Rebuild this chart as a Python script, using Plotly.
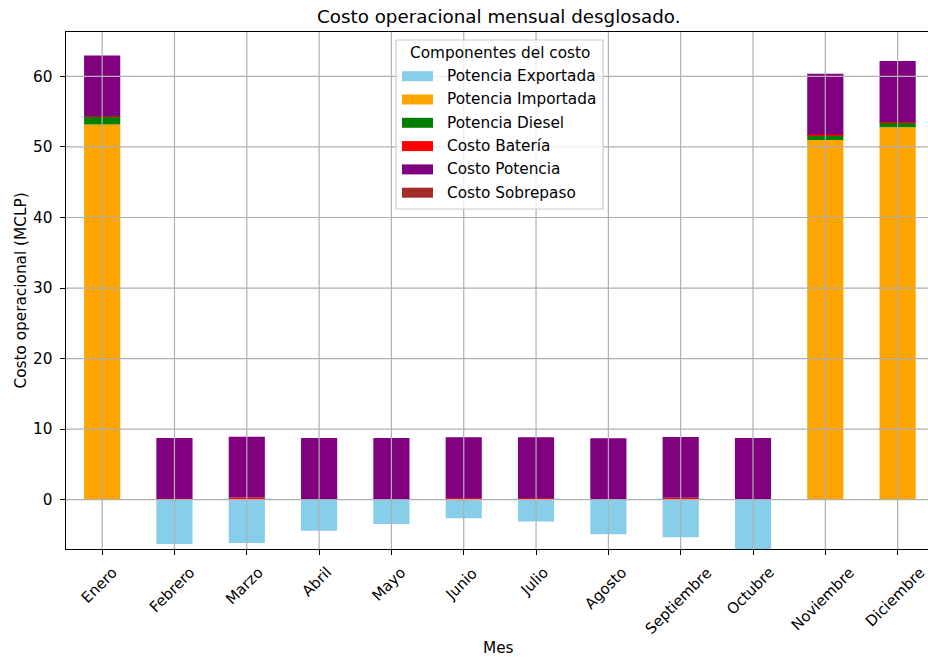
import plotly.graph_objects as go

# Monthly cost breakdown (MCLP)
meses = ["Enero", "Febrero", "Marzo", "Abril", "Mayo", "Junio", "Julio",
         "Agosto", "Septiembre", "Octubre", "Noviembre", "Diciembre"]
potencia_exportada = [0.0, -6.3, -6.15, -4.4, -3.45, -2.65, -3.1, -4.9, -5.35, -7.0, 0.0, 0.0]
potencia_importada = [53.2, 0.0, 0.0, 0.0, 0.0, 0.08, 0.06, 0.0, 0.0, 0.0, 51.0, 52.8]
potencia_diesel = [1.05, 0.0, 0.0, 0.0, 0.0, 0.0, 0.0, 0.0, 0.0, 0.0, 0.6, 0.6]
costo_bateria = [0.1, 0.12, 0.3, 0.1, 0.1, 0.15, 0.15, 0.08, 0.25, 0.1, 0.15, 0.15]
costo_potencia = [8.63, 8.63, 8.63, 8.63, 8.63, 8.63, 8.63, 8.63, 8.63, 8.63, 8.63, 8.63]
costo_sobrepaso = [0.0] * 12

series = [
    ("Potencia Exportada", potencia_exportada, "#87CEEB"),
    ("Potencia Importada", potencia_importada, "#FFA500"),
    ("Potencia Diesel", potencia_diesel, "#008000"),
    ("Costo Batería", costo_bateria, "#FF0000"),
    ("Costo Potencia", costo_potencia, "#800080"),
    ("Costo Sobrepaso", costo_sobrepaso, "#A52A2A"),
]
y_ticks = [0, 10, 20, 30, 40, 50, 60]

W, H = 928, 660
L, R_PX, T, B_PX = 66, 928, 32, 549  # plot area in pixels
PW, PH = R_PX - L, B_PX - T
FONT = "DejaVu Sans"
FS = 15.3
LW = 1.2


def px(xp):
    return (xp - L) / PW


def py(yp):
    return (B_PX - yp) / PH


fig = go.Figure()
for name, vals, color in series:
    fig.add_trace(go.Bar(
        x=meses, y=vals, name=name, width=0.5,
        marker=dict(color=color, line=dict(width=0)),
        showlegend=False,
    ))

shapes = []
annotations = []

# grid drawn over the bars
for m in meses:
    shapes.append(dict(type="line", xref="x", yref="paper", x0=m, x1=m, y0=0, y1=1,
                       line=dict(color="#b0b0b0", width=LW), layer="above"))
for t in y_ticks:
    shapes.append(dict(type="line", xref="paper", yref="y", x0=0, x1=1, y0=t, y1=t,
                       line=dict(color="#b0b0b0", width=LW), layer="above"))

# rotated month labels, centred under each tick
for m in meses:
    annotations.append(dict(x=m, xref="x", y=py(561), yref="paper", text=m,
                            showarrow=False, textangle=-45, xanchor="center",
                            yanchor="top", xshift=-2.5,
                            font=dict(family=FONT, size=14.9, color="black")))

# title and axis titles
annotations.append(dict(x=px(499), y=py(17), xref="paper", yref="paper",
                        text="Costo operacional mensual desglosado.", showarrow=False,
                        xanchor="center", yanchor="middle",
                        font=dict(family=FONT, size=18.3, color="black")))
annotations.append(dict(x=px(499), y=py(648), xref="paper", yref="paper", text="Mes",
                        showarrow=False, xanchor="center", yanchor="middle",
                        font=dict(family=FONT, size=FS, color="black")))
annotations.append(dict(x=px(20), y=py(290.5), xref="paper", yref="paper",
                        text="Costo operacional (MCLP)", showarrow=False, textangle=-90,
                        xanchor="center", yanchor="middle",
                        font=dict(family=FONT, size=FS, color="black")))

# legend box
lx0, lx1, ly0, ly1 = 396, 603, 40, 209
shapes.append(dict(type="rect", xref="paper", yref="paper",
                   x0=px(lx0), x1=px(lx1), y0=py(ly1), y1=py(ly0),
                   line=dict(color="#cccccc", width=LW),
                   fillcolor="rgba(255,255,255,0.8)", layer="above"))
annotations.append(dict(x=px((lx0 + lx1) / 2), y=py(52.5), xref="paper", yref="paper",
                        text="Componentes del costo", showarrow=False,
                        xanchor="center", yanchor="middle",
                        font=dict(family=FONT, size=FS, color="black")))
row0, row_step = 76.2, 23.3
for i, (name, vals, color) in enumerate(series):
    yc = row0 + i * row_step
    shapes.append(dict(type="rect", xref="paper", yref="paper",
                       x0=px(402), x1=px(433), y0=py(yc + 5), y1=py(yc - 5),
                       line=dict(width=0), fillcolor=color, layer="above"))
    annotations.append(dict(x=px(445), y=py(yc), xref="paper", yref="paper", text=name,
                            showarrow=False, xanchor="left", yanchor="middle",
                            font=dict(family=FONT, size=FS, color="black")))

fig.update_layout(
    width=W, height=H,
    margin=dict(l=L, r=W - R_PX, t=T, b=H - B_PX, pad=0),
    barmode="relative",
    plot_bgcolor="white", paper_bgcolor="white",
    font=dict(family=FONT, size=FS, color="black"),
    shapes=shapes, annotations=annotations,
    showlegend=False,
)
fig.update_xaxes(
    type="category", range=[-0.5, 11.42], showgrid=False, zeroline=False,
    showticklabels=False, ticks="outside", ticklen=5.3, tickwidth=LW, tickcolor="black",
    showline=True, linecolor="black", linewidth=LW, mirror=True,
)
fig.update_yaxes(
    range=[-7.0, 66.3], tickvals=y_ticks, showgrid=False, zeroline=False,
    ticks="outside", ticklen=5.3, tickwidth=LW, tickcolor="black",
    showline=True, linecolor="black", linewidth=LW, mirror=False,
    tickfont=dict(family=FONT, size=FS, color="black"), ticklabelstandoff=4,
)

fig.write_html("out.html")
